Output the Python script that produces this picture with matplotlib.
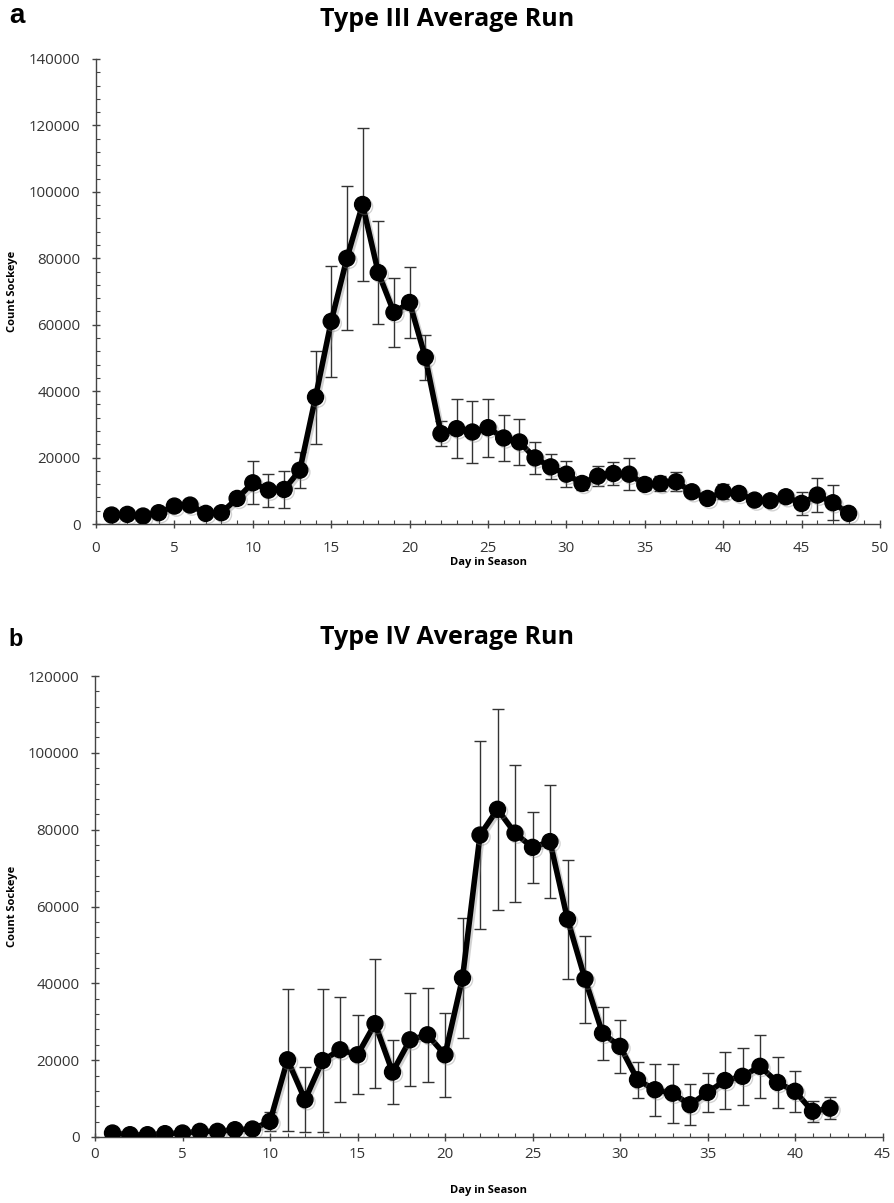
import numpy as np
import matplotlib.pyplot as plt
import matplotlib.patheffects as pe
from matplotlib.ticker import MultipleLocator

plt.rcParams['font.family'] = ['Open Sans', 'DejaVu Sans']

# Type III average run
days3 = list(range(1, 49))
count3 = [2700, 2900, 2400, 3400, 5400, 5700, 3200, 3400, 7700, 12400,
          10200, 10400, 16200, 38200, 61000, 80000, 96200, 75700, 63700, 66700,
          50200, 27200, 28700, 27700, 29000, 25900, 24700, 19900, 17200, 15000,
          12200, 14400, 15200, 15000, 11900, 12200, 12700, 9700, 7700, 9700,
          9200, 7200, 7000, 8200, 6200, 8700, 6400, 3200]
err3 = [0, 0, 0, 0, 0, 0, 0, 0, 0, 6500,
        5000, 5500, 5500, 14000, 16700, 21700, 23000, 15600, 10300, 10700,
        6800, 3700, 8900, 9200, 8700, 6800, 6900, 4900, 3800, 3850,
        2000, 3100, 3450, 4750, 1800, 2200, 2900, 1000, 0, 2200,
        1500, 0, 0, 0, 3350, 5150, 5300, 0]

# Type IV average run
days4 = list(range(1, 43))
count4 = [1040, 600, 600, 870, 1040, 1470, 1470, 1900, 2080, 4070,
          20100, 9700, 19900, 22700, 21400, 29500, 16900, 25300, 26600, 21400,
          41400, 78600, 85300, 79100, 75400, 76900, 56700, 41100, 27000, 23600,
          14900, 12300, 11400, 8400, 11600, 14700, 15800, 18400, 14200, 11900,
          6700, 7500]
err4 = [0, 0, 0, 0, 0, 0, 0, 0, 0, 2400,
        18500, 8500, 18500, 13700, 10300, 16800, 8300, 12100, 12200, 11000,
        15600, 24400, 26100, 17800, 9200, 14600, 15500, 11300, 6850, 6900,
        4700, 6800, 7700, 5400, 5150, 7300, 7400, 8200, 6700, 5300,
        2700, 2900]

W, H = 894, 1203
fig = plt.figure(figsize=(W / 100, H / 100), dpi=100)
ax1 = fig.add_axes([96 / W, 1 - 524 / H, 784 / W, 465 / H])
ax2 = fig.add_axes([95 / W, 1 - 1137 / H, 787.5 / W, 461 / H])

shadow = [pe.SimpleLineShadow(offset=(1.5, -1.5), alpha=0.35, shadow_color='gray'), pe.Normal()]


def draw(ax, days, counts, errs, xmax, ymax, xpad):
    ax.errorbar(days, counts, yerr=errs, fmt='none', ecolor='#333333',
                elinewidth=1, capsize=4.5, capthick=1, zorder=2)
    ax.plot(days, counts, color='black', lw=4, marker='o', ms=11.5,
            path_effects=shadow, zorder=3)
    ax.set_xlim(0, xmax)
    ax.set_ylim(0, ymax)
    ax.xaxis.set_major_locator(MultipleLocator(5))
    ax.xaxis.set_minor_locator(MultipleLocator(1))
    ax.yaxis.set_major_locator(MultipleLocator(20000))
    ax.yaxis.set_minor_locator(MultipleLocator(4000))
    for s in ['top', 'right']:
        ax.spines[s].set_visible(False)
    for s in ['left', 'bottom']:
        ax.spines[s].set_color('#444444')
        ax.spines[s].set_linewidth(1)
    ax.tick_params(which='major', direction='inout', length=6, width=1,
                   color='#444444', labelsize=10.8, labelcolor='#333333')
    ax.tick_params(which='minor', direction='in', length=3, width=0.8,
                   color='#444444')
    ax.tick_params(axis='y', which='major', pad=8)
    ax.tick_params(axis='x', which='major', pad=xpad)


draw(ax1, days3, count3, err3, 50, 140000, 9)
draw(ax2, days4, count4, err4, 45, 120000, 4.5)

# axis labels
for yc in [291.5, 906.5]:
    fig.text(13 / W, 1 - yc / H, 'Count Sockeye', rotation=90, ha='center',
             va='center', fontsize=8, fontweight='bold')
fig.text(488 / W, 1 - 563 / H, 'Day in Season', ha='center', va='center',
         fontsize=8, fontweight='bold')
fig.text(488 / W, 1 - 1190 / H, 'Day in Season', ha='center', va='center',
         fontsize=8, fontweight='bold')

fig.text(0.5, 1 - 20 / H, 'Type III Average Run', ha='center', va='center',
         fontsize=18, fontweight='bold')
fig.text(0.5, 1 - 637 / H, 'Type IV Average Run', ha='center', va='center',
         fontsize=18, fontweight='bold')
fig.text(9 / W, 1 - 16 / H, 'a', ha='left', va='center', fontsize=20,
         fontweight='bold', family='Liberation Sans')
fig.text(8 / W, 1 - 640 / H, 'b', ha='left', va='center', fontsize=17,
         fontweight='bold', family='Liberation Sans')

fig.savefig('out.png', dpi=100)
